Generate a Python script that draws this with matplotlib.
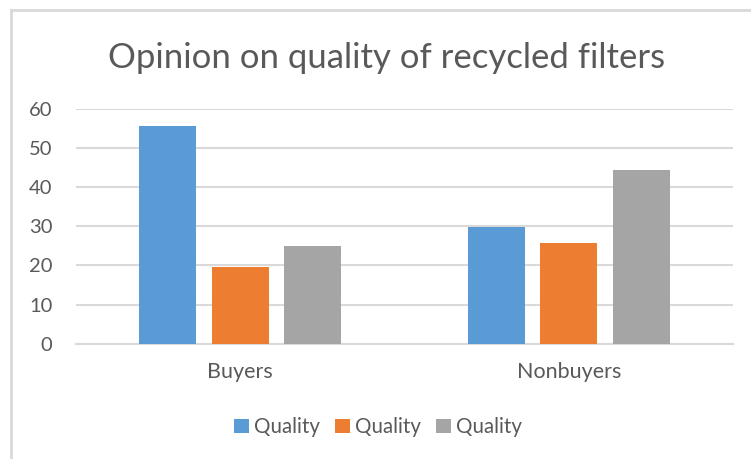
import numpy as np
import matplotlib
matplotlib.use("Agg")
import matplotlib.pyplot as plt
from matplotlib.patches import Patch
from matplotlib.lines import Line2D

CATEGORIES = ["Buyers", "Nonbuyers"]
SERIES_NAMES = ["Quality", "Quality", "Quality"]
SERIES_VALUES = [
    [55.7, 29.9],
    [19.6, 25.8],
    [25.0, 44.5],
]
COLORS = ["#5B9BD5", "#ED7D31", "#A5A5A5"]
YTICKS = [0, 10, 20, 30, 40, 50, 60]

TEXT = "#595959"
GRID = "#D9D9D9"

plt.rcParams["font.family"] = ["Lato", "DejaVu Sans"]

fig = plt.figure(figsize=(7.51, 4.59), dpi=100)
ax = fig.add_axes([76 / 751, 115.3 / 459, 657 / 751, 234.7 / 459])

x = np.arange(len(CATEGORIES))
width = 0.175
step = 0.2207
for i, (vals, c) in enumerate(zip(SERIES_VALUES, COLORS)):
    ax.bar(x + (i - 1) * step, vals, width, color=c, zorder=3)

ax.set_xlim(-0.5, len(CATEGORIES) - 0.5)
ax.set_ylim(0, 60)
ax.set_yticks(YTICKS)
ax.set_xticks(x)
ax.set_xticklabels(CATEGORIES)
ax.tick_params(axis="y", length=0, labelsize=14.5, colors=TEXT, pad=17)
ax.tick_params(axis="x", length=0, labelsize=15.5, colors=TEXT, pad=13)
ax.grid(axis="y", color=GRID, lw=1.5, zorder=0)
for s in ["top", "right", "left"]:
    ax.spines[s].set_visible(False)
ax.spines["bottom"].set_color(GRID)
ax.spines["bottom"].set_linewidth(1.5)

fig.text(387 / 751, 1 - 58 / 459, "Opinion on quality of recycled filters",
         ha="center", va="center", fontsize=25, color=TEXT)

handles = [Patch(facecolor=c) for c in COLORS]
fig.legend(handles, SERIES_NAMES, loc="center", bbox_to_anchor=(378 / 751, 1 - 427 / 459),
           ncol=3, frameon=False, fontsize=14.8, labelcolor=TEXT,
           handlelength=0.7, handleheight=0.7, handletextpad=0.25, columnspacing=0.75)

# chart frame (left and top edges visible)
fig.add_artist(Line2D([11 / 751, 11 / 751], [0, 1 - 10 / 459], transform=fig.transFigure,
                      color=GRID, lw=2))
fig.add_artist(Line2D([11 / 751, 1], [1 - 10 / 459, 1 - 10 / 459], transform=fig.transFigure,
                      color=GRID, lw=2))

fig.savefig("out.png", dpi=100)
